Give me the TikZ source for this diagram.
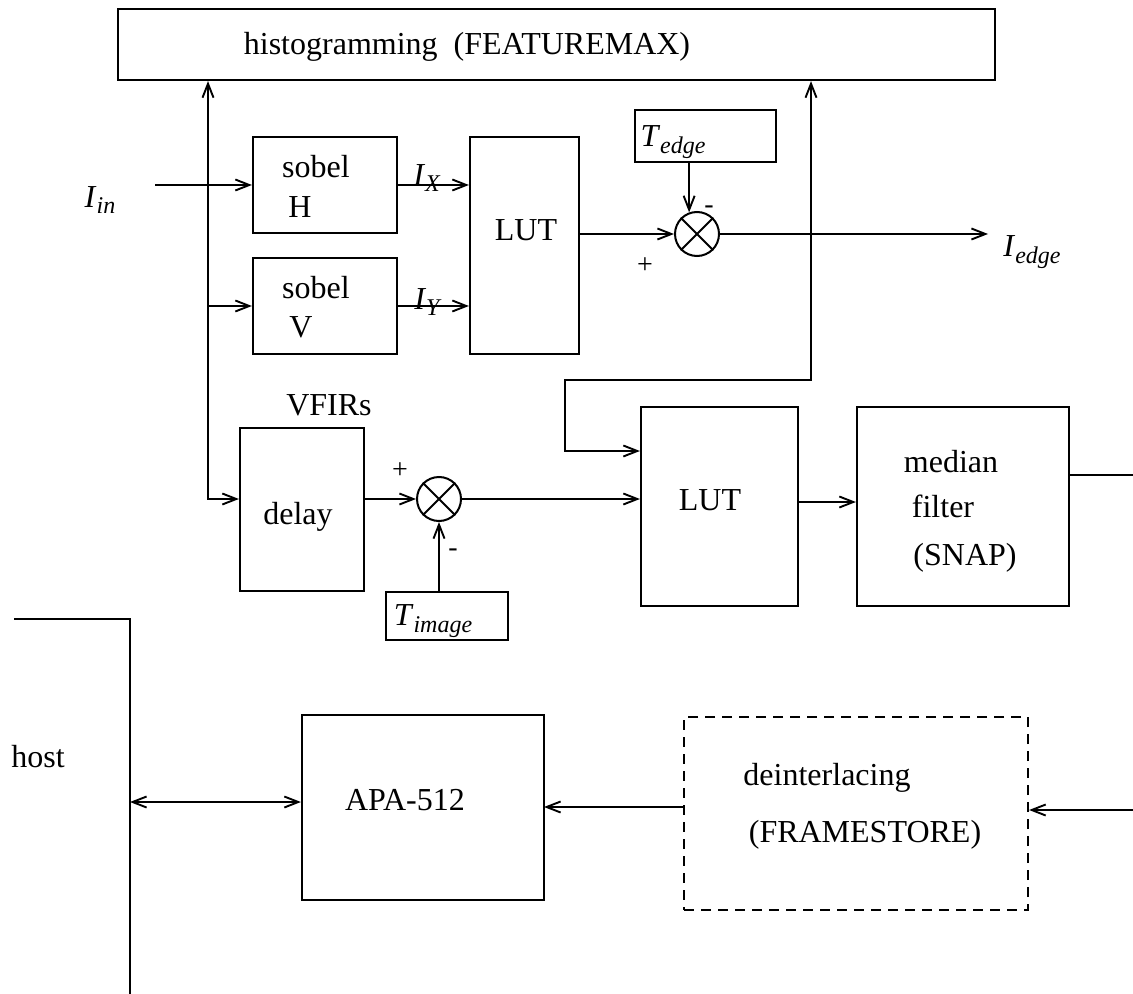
\documentclass[tikz,border=0pt]{standalone}
\usepackage{fontspec}
\setmainfont{Liberation Serif}
\usetikzlibrary{arrows.meta,fit,calc}
\newcommand{\subl}[2]{\textit{#1}\raisebox{-0.45ex}{\fontsize{12}{12}\selectfont\textit{#2}}}
\begin{document}
\begin{tikzpicture}[x=0.5pt,y=-0.5pt, font=\fontsize{16}{19}\selectfont,
  box/.style={draw, line width=1.1pt, inner sep=0pt},
  dbox/.style={draw, line width=1.1pt, inner sep=0pt, dash pattern=on 5pt off 3.5pt},
  sum/.style={draw, circle, line width=1pt, minimum size=22pt, inner sep=0pt},
  conn/.style={line width=0.95pt},
  arr/.style={conn, -{Straight Barb[length=7pt,width=5.5pt]}},
  darr/.style={conn, {Straight Barb[length=7pt,width=5.5pt]}-{Straight Barb[length=7pt,width=5.5pt]}},
  txt/.style={inner sep=0pt, anchor=center},
  sgn/.style={inner sep=0pt, anchor=center, font=\fontsize{14}{14}\selectfont}]
\useasboundingbox (0,0) rectangle (1133,994);

% boxes
\node[box, fit={(118,9) (995,80)}] (hist) {};
\node[box, fit={(253,137) (397,233)}] (sobelH) {};
\node[box, fit={(253,258) (397,354)}] (sobelV) {};
\node[box, fit={(470,137) (579,354)}] (lut1) {};
\node[box, fit={(635,110) (776,162)}] (tedge) {};
\node[box, fit={(240,428) (364,591)}] (delay) {};
\node[box, fit={(386,592) (508,640)}] (timage) {};
\node[box, fit={(641,407) (798,606)}] (lut2) {};
\node[box, fit={(857,407) (1069,606)}] (median) {};
\node[box, fit={(302,715) (544,900)}] (apa) {};
\node[dbox, fit={(684,717) (1028,910)}] (dfs) {};

% summing junctions
\node[sum] (c1) at (697,234) {};
\node[sum] (c2) at (439,499) {};
\draw[line width=1pt] (c1.north west) -- (c1.south east) (c1.north east) -- (c1.south west);
\draw[line width=1pt] (c2.north west) -- (c2.south east) (c2.north east) -- (c2.south west);

% texts
\node[txt] (histtxt) at (467,47) {histogramming~~(FEATUREMAX)};
\node[txt] (sobHa) at (316,167) {sobel};
\node[txt] (sobHb) at (300,207) {H};
\node[txt] (sobVa) at (316,288) {sobel};
\node[txt] (sobVb) at (301,327) {V};
\node[txt] (lut1t) at (526,230) {LUT};
\node[txt] (vfirs) at (329,405) {VFIRs};
\node[txt] (delayt) at (298,517) {delay};
\node[txt] (lut2t) at (710,500) {LUT};
\node[txt] (meda) at (951,462) {median};
\node[txt] (medb) at (943,506) {filter};
\node[txt] (medc) at (965,558) {(SNAP)};
\node[txt] (hostt) at (38,757) {host};
\node[txt] (apat) at (405,800) {APA-512};
\node[txt] (dfsa) at (827,778) {deinterlacing};
\node[txt] (dfsb) at (865,835) {(FRAMESTORE)};

% math labels
\node[txt] (lin) at (100,200) {\subl{I}{in}};
\node[txt] (lix) at (427,178) {\subl{I}{X}};
\node[txt] (liy) at (428,302) {\subl{I}{Y}};
\node[txt] (ltedge) at (673,142) {\subl{T}{edge}};
\node[txt] (ltimage) at (433,621) {\subl{T}{image}};
\node[txt] (liedge) at (1032,252) {\subl{I}{edge}};

% signs
\node[sgn] (p1) at (645,266) {+};
\node[sgn] (m1) at (709,210) {-};
\node[sgn] (p2) at (400,471) {+};
\node[sgn] (m2) at (453,553) {-};

% coordinates
\coordinate (inS) at (155,185);
\coordinate (j1) at (208,185);
\coordinate (j2) at (811,234);
\coordinate (iedgeE) at (988,234);
\coordinate (lp1) at (811,380);
\coordinate (lp2) at (565,380);
\coordinate (lp3) at (565,451);
\coordinate (lmid) at (798,502);
\coordinate (medOut) at (1133,475);
\coordinate (rightIn) at (1133,810);
\coordinate (apaIn) at (544,807);
\coordinate (hostTop) at (14,619);
\coordinate (hostCorner) at (130,619);
\coordinate (hostBot) at (130,994);
\coordinate (hostJ) at (130,802);

% connectors
\draw[conn] (inS) -- (j1);
\draw[arr] (j1) -- (j1 -| sobelH.west);
\draw[arr] (j1) -- (j1 |- hist.south);
\draw[arr] (j1) |- (delay.west |- c2);
\draw[arr] (j1 |- 0,306) -- (sobelV.west |- 0,306);
\draw[arr] (sobelH.east |- j1) -- (lut1.west |- j1);
\draw[arr] (sobelV.east |- 0,306) -- (lut1.west |- 0,306);
\draw[arr] (lut1.east |- c1) -- (c1.west);
\draw[arr] (tedge.south -| c1.110) -- (c1.110);
\draw[arr] (c1.east) -- (iedgeE);
\draw[arr] (j2) -- (j2 |- hist.south);
\draw[arr] (j2) -- (lp1) -- (lp2) -- (lp3) -- (lp3 -| lut2.west);
\draw[arr] (delay.east |- c2) -- (c2.west);
\draw[arr] (timage.north -| c2) -- (c2.south);
\draw[arr] (c2.east) -- (c2 -| lut2.west);
\draw[arr] (lmid) -- (lmid -| median.west);
\draw[conn] (median.east |- medOut) -- (medOut);
\draw[arr] (rightIn) -- (rightIn -| dfs.east);
\draw[arr] (dfs.west |- apaIn) -- (apaIn);
\draw[darr] (hostJ) -- (hostJ -| apa.west);
\draw[conn] (hostTop) -- (hostCorner) -- (hostBot);
\end{tikzpicture}
\end{document}
